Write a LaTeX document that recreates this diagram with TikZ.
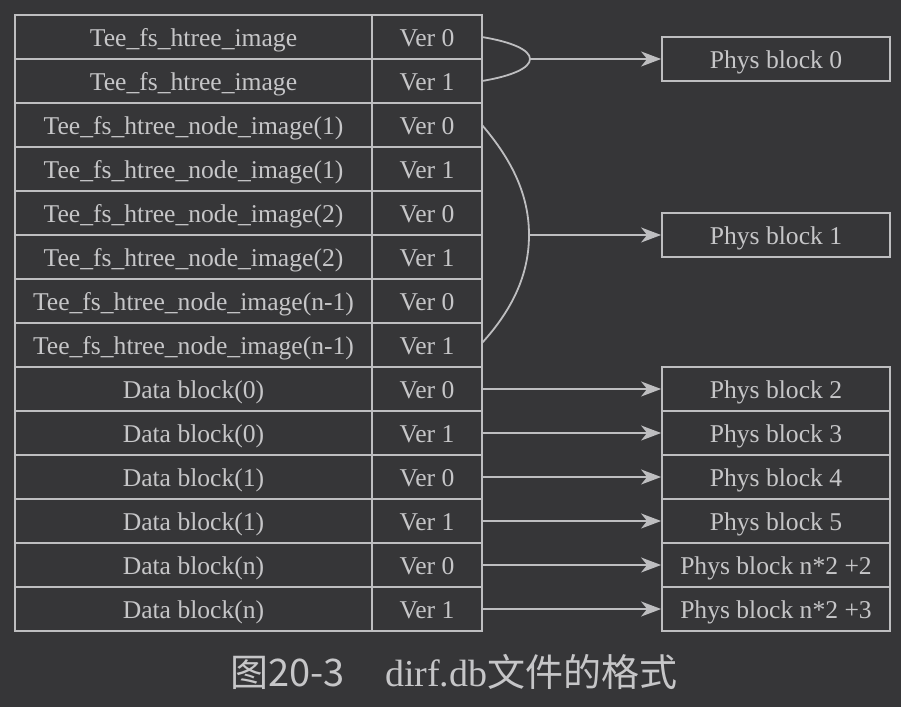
\documentclass[tikz,border=0pt]{standalone}
\usepackage{fontspec}
\setmainfont{Liberation Serif}
\newfontfamily\cjk{Noto Sans CJK SC}
\usetikzlibrary{arrows.meta}
\definecolor{bg}{RGB}{54,54,56}
\definecolor{ln}{RGB}{190,190,192}
\definecolor{tx}{RGB}{198,198,200}
\begin{document}
\begin{tikzpicture}[x=1pt,y=-1pt,
  cell/.style={draw=ln,line width=1.8pt,text=tx,minimum height=44pt,inner sep=0pt,
    text height=23.5pt,text depth=5pt,font=\fontsize{25.6}{30}\selectfont},
  namecell/.style={cell,minimum width=357pt},
  vercell/.style={cell,minimum width=110pt},
  physcell/.style={cell,minimum width=228pt},
  conn/.style={draw=ln,line width=1.8pt},
  arr/.style={conn,-{Stealth[length=20pt,width=15pt,inset=6pt]}}]
\fill[bg] (0,0) rectangle (901,707);
\useasboundingbox (0,0) rectangle (901,707);
% rows
\foreach \i/\t/\v in {1/Tee\_fs\_htree\_image/Ver 0,
                      2/Tee\_fs\_htree\_image/Ver 1,
                      3/Tee\_fs\_htree\_node\_image(1)/Ver 0,
                      4/Tee\_fs\_htree\_node\_image(1)/Ver 1,
                      5/Tee\_fs\_htree\_node\_image(2)/Ver 0,
                      6/Tee\_fs\_htree\_node\_image(2)/Ver 1,
                      7/Tee\_fs\_htree\_node\_image(n-1)/Ver 0,
                      8/Tee\_fs\_htree\_node\_image(n-1)/Ver 1,
                      9/Data block(0)/Ver 0,
                      10/Data block(0)/Ver 1,
                      11/Data block(1)/Ver 0,
                      12/Data block(1)/Ver 1,
                      13/Data block(n)/Ver 0,
                      14/Data block(n)/Ver 1}{
  \node[namecell] (r\i) at (193.5,{15+44*(\i-0.5)}) {\t};
  \node[vercell] (v\i) at (427,{15+44*(\i-0.5)}) {\v};
}
% phys blocks
\node[physcell] (p0) at (776,59) {Phys block 0};
\node[physcell] (p1) at (776,235) {Phys block 1};
\node[physcell] (p2) at (776,389) {Phys block 2};
\node[physcell] (p3) at (776,433) {Phys block 3};
\node[physcell] (p4) at (776,477) {Phys block 4};
\node[physcell] (p5) at (776,521) {Phys block 5};
\node[physcell] (p6) at (776,565) {Phys block n*2 +2};
\node[physcell] (p7) at (776,609) {Phys block n*2 +3};
% brace 0
\coordinate (b0s) at (482,37);
\coordinate (b0t) at (530,59);
\coordinate (b0e) at (482,81);
\draw[conn] (b0s) .. controls (512,42) and (530,50) .. (b0t)
                  .. controls (530,68) and (512,76) .. (b0e);
\draw[arr] (b0t) -- (p0.west);
% brace 1
\coordinate (b1s) at (482,125);
\coordinate (b1t) at (529,235);
\coordinate (b1e) at (482,343);
\draw[conn] (b1s) .. controls (512,160) and (529,195) .. (b1t)
                  .. controls (529,275) and (512,310) .. (b1e);
\draw[arr] (b1t) -- (p1.west);
% data arrows
\draw[arr] (v9.east) -- (p2.west);
\draw[arr] (v10.east) -- (p3.west);
\draw[arr] (v11.east) -- (p4.west);
\draw[arr] (v12.east) -- (p5.west);
\draw[arr] (v13.east) -- (p6.west);
\draw[arr] (v14.east) -- (p7.west);
% caption
\node[text=tx,inner sep=0pt,anchor=center] (cap) at (454,672)
  {\fontsize{38}{44}\selectfont{\cjk 图20-3}\hspace{40pt}dirf.db{\cjk 文件的格式}};
\end{tikzpicture}
\end{document}
